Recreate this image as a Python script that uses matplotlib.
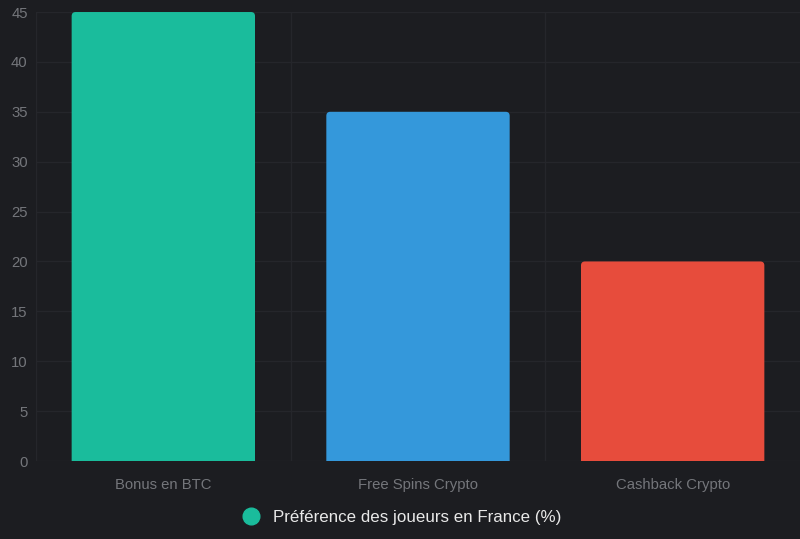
import numpy as np
import matplotlib
matplotlib.use("Agg")
import matplotlib.pyplot as plt
from matplotlib.patches import FancyBboxPatch

categories = ["Bonus en BTC", "Free Spins Crypto", "Cashback Crypto"]
values = [45, 35, 20]
colors = ["#1abc9c", "#3498db", "#e74c3c"]
series_label = "Préférence des joueurs en France (%)"

bg = "#1c1d21"
grid_col = "#25262b"
tick_col = "#74767b"

plt.rcParams["font.family"] = ["Liberation Sans", "DejaVu Sans"]

fig = plt.figure(figsize=(8, 5.39), dpi=100, facecolor=bg)
ax = fig.add_axes([0.045, 0.1447, 0.955, 0.833])
ax.set_facecolor(bg)

ax.set_xlim(-0.5, len(categories) - 0.5)
ax.set_ylim(0, 45)

x = np.arange(len(categories))
bars = ax.bar(x, values, width=0.72, color=colors, zorder=3)

# swap the plain bars for ones with slightly rounded corners (~4 px)
bbox = ax.get_window_extent()
px_x = (len(categories)) / bbox.width
px_y = 45 / bbox.height
r = 4 * px_x
for b, c in zip(bars, colors):
    b.set_visible(False)
    x0, w, h = b.get_x(), b.get_width(), b.get_height()
    p = FancyBboxPatch((x0, -4 * px_y), w, h + 4 * px_y,
                       boxstyle=f"round,pad=0,rounding_size={r}",
                       mutation_aspect=px_y / px_x,
                       facecolor=c, edgecolor="none", zorder=3)
    ax.add_patch(p)

ax.set_yticks(range(0, 46, 5))
ax.set_xticks(x)
ax.set_xticklabels(categories)

# grid lines at category boundaries and at each y tick
for bnd in np.arange(-0.5, len(categories) - 0.5, 1.0):
    ax.axvline(bnd, color=grid_col, lw=1, zorder=1)
for v in range(0, 46, 5):
    ax.axhline(v, color=grid_col, lw=1, zorder=1)

for s in ax.spines.values():
    s.set_visible(False)
ax.tick_params(axis="both", colors=tick_col, labelsize=10.7, length=0)
ax.tick_params(axis="y", pad=6)
ax.tick_params(axis="x", pad=12)

handle = plt.Line2D([], [], marker="o", ls="", markersize=12,
                    markerfacecolor=colors[0], markeredgecolor=colors[0])
fig.legend([handle], [series_label], loc="center", bbox_to_anchor=(0.497, 0.04),
           frameon=False, fontsize=12.2, labelcolor="#e8e8e8",
           handletextpad=0.3)

fig.savefig("out.png", dpi=100, facecolor=bg)
